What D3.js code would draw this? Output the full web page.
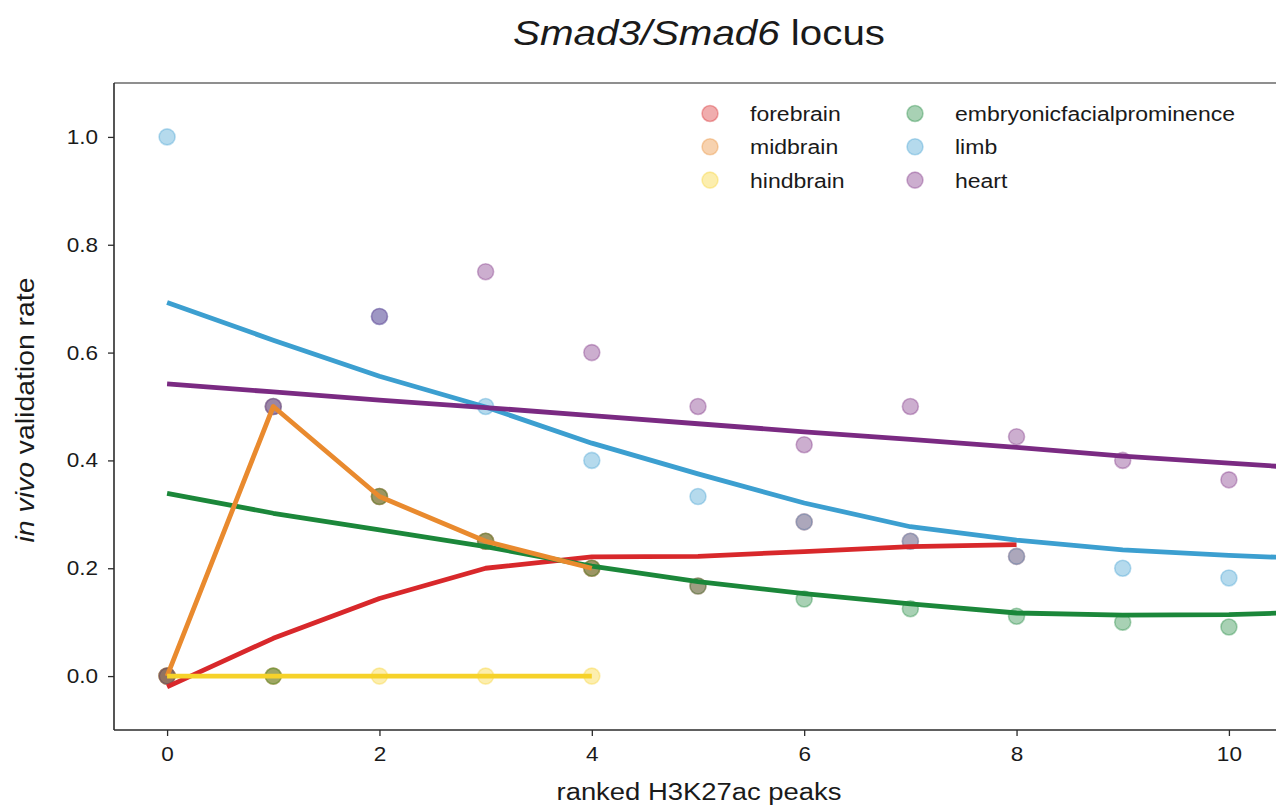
<!DOCTYPE html>
<html lang="en">
  <head>
    <meta charset="UTF-8" />
    <title>Smad3/Smad6 locus</title>
  </head>
  <style>
    * {
      margin: 0;
      padding: 0;
    }
    body {
      background: #fff;
      overflow: hidden;
    }
    text {
      font-family: "Liberation Sans", Arial, sans-serif;
      fill: #1a1a1a;
    }
  </style>

  <body>
    <svg id="chart"></svg>
  </body>

  <script src="https://d3js.org/d3.v7.min.js"></script>
  <script>
    // ranked peak index for each tissue, and the validation rate
    const tissues = ["forebrain", "midbrain", "hindbrain", "embryonicfacialprominence", "limb", "heart"];
    const colors = ["#d8282b", "#e98a2e", "#f6d22a", "#1b873a", "#3c9fd0", "#7a2a82"];

    const forebrain = [0, 0, 0.333, 0.25, 0.2, 0.167, 0.286, 0.25, 0.222];
    const midbrain = [0, 0.5, 0.333, 0.25, 0.2];
    const hindbrain = [0, 0, 0, 0, 0];
    const facial = [0, 0, 0.333, 0.25, 0.2, 0.167, 0.143, 0.125, 0.111, 0.1, 0.091];
    const limb = [1.0, 0.5, 0.667, 0.5, 0.4, 0.333, 0.286, 0.25, 0.222, 0.2, 0.182];
    const heart = [0, 0.5, 0.667, 0.75, 0.6, 0.5, 0.429, 0.5, 0.444, 0.4, 0.364];

    // smoothed fit lines (one value per rank)
    const forebrainFit = [-0.02, 0.07, 0.144, 0.2, 0.221, 0.222, 0.231, 0.24, 0.244];
    const midbrainFit = [0, 0.5, 0.333, 0.25, 0.2];
    const hindbrainFit = [0, 0, 0, 0, 0];
    const facialFit = [0.339, 0.302, 0.271, 0.24, 0.204, 0.175, 0.153, 0.134, 0.117, 0.113, 0.114, 0.12];
    const limbFit = [0.693, 0.623, 0.556, 0.499, 0.432, 0.375, 0.321, 0.277, 0.252, 0.234, 0.224, 0.216];
    const heartFit = [0.542, 0.527, 0.512, 0.498, 0.483, 0.468, 0.453, 0.439, 0.424, 0.408, 0.395, 0.382];

    const xTicks = [0, 2, 4, 6, 8, 10];
    const yTicks = [0, 0.2, 0.4, 0.6, 0.8, 1.0];

    const points = [forebrain, midbrain, hindbrain, facial, limb, heart];
    const fits = [forebrainFit, midbrainFit, hindbrainFit, facialFit, limbFit, heartFit];
    // order the fit lines are painted in
    const lineOrder = [0, 3, 4, 5, 1, 2];

    const width = 1276;
    const height = 806;
    const margin = { top: 83, left: 114, bottom: 76, right: -6 };

    const svg = d3.select("#chart").attr("width", width).attr("height", height);

    const xScale = d3.scaleLinear().domain([-0.5, 10.5]).range([margin.left, width - margin.right]);
    const yScale = d3.scaleLinear().domain([-0.1, 1.1]).range([height - margin.bottom, margin.top]);

    // the source figure is a little wider than it is tall, so stretch text sideways
    function widen(sel, k) {
      sel.each(function () {
        const w = this.getComputedTextLength();
        d3.select(this).attr("textLength", w * k).attr("lengthAdjust", "spacingAndGlyphs");
      });
    }

    svg
      .append("defs")
      .append("clipPath")
      .attr("id", "plotArea")
      .append("rect")
      .attr("x", xScale.range()[0])
      .attr("y", yScale.range()[1])
      .attr("width", xScale.range()[1] - xScale.range()[0])
      .attr("height", yScale.range()[0] - yScale.range()[1]);

    const plot = svg.append("g").attr("clip-path", "url(#plotArea)");

    // scatter points
    points.forEach((vals, i) => {
      plot
        .append("g")
        .selectAll("circle")
        .data(vals)
        .join("circle")
        .attr("cx", (d, j) => xScale(j))
        .attr("cy", (d) => yScale(d))
        .attr("r", 8)
        .attr("fill", colors[i])
        .attr("fill-opacity", 0.38)
        .attr("stroke", colors[i])
        .attr("stroke-opacity", 0.35)
        .attr("stroke-width", 1.6);
    });

    // fit lines
    const line = d3
      .line()
      .x((d, j) => xScale(j))
      .y((d) => yScale(d));

    lineOrder.forEach((i) => {
      plot
        .append("path")
        .datum(fits[i])
        .attr("d", line)
        .attr("fill", "none")
        .attr("stroke", colors[i])
        .attr("stroke-width", 4.8)
        .attr("stroke-linejoin", "round");
    });

    // top spine
    svg
      .append("line")
      .attr("x1", xScale.range()[0])
      .attr("x2", width)
      .attr("y1", yScale.range()[1])
      .attr("y2", yScale.range()[1])
      .attr("stroke", "#6a6a6a")
      .attr("stroke-width", 1.3);

    // x axis
    const xAxis = svg
      .append("g")
      .attr("transform", `translate(0,${yScale.range()[0]})`)
      .call(d3.axisBottom(xScale).tickValues(xTicks).tickSize(6).tickPadding(10).tickFormat(d3.format("d")));
    // y axis
    const yAxis = svg
      .append("g")
      .attr("transform", `translate(${xScale.range()[0]},0)`)
      .call(d3.axisLeft(yScale).tickValues(yTicks).tickSize(6).tickPadding(10).tickFormat(d3.format(".1f")));

    [xAxis, yAxis].forEach((ax) => {
      ax.select(".domain").attr("stroke", "#2b2b2b").attr("stroke-width", 1.6);
      ax.selectAll(".tick line").attr("stroke", "#2b2b2b").attr("stroke-width", 1.3);
      ax.selectAll(".tick text").attr("font-size", 20.5).attr("fill", "#1a1a1a").attr("font-family", "Liberation Sans, Arial, sans-serif");
    });
    // keep the bottom spine running off the right edge like the source
    xAxis.select(".domain").attr("d", `M${xScale.range()[0]},0H${width + 10}`);
    yAxis.select(".domain").attr("d", `M0,${yScale.range()[0]}V${yScale.range()[1]}`);
    widen(xAxis.selectAll(".tick text"), 1.1);
    widen(yAxis.selectAll(".tick text"), 1.1);

    // title
    const title = svg
      .append("text")
      .attr("x", 699)
      .attr("y", 45)
      .attr("text-anchor", "middle")
      .attr("font-size", 35);
    title.append("tspan").attr("font-style", "italic").text("Smad3/Smad6");
    title.append("tspan").text(" locus");
    title.attr("textLength", 372).attr("lengthAdjust", "spacingAndGlyphs");

    // axis labels
    svg
      .append("text")
      .attr("x", 699)
      .attr("y", 800)
      .attr("text-anchor", "middle")
      .attr("font-size", 23)
      .attr("textLength", 285)
      .attr("lengthAdjust", "spacingAndGlyphs")
      .text("ranked H3K27ac peaks");

    const yLabel = svg
      .append("text")
      .attr("transform", "translate(34,410) rotate(-90)")
      .attr("text-anchor", "middle")
      .attr("font-size", 26)
      .attr("textLength", 265)
      .attr("lengthAdjust", "spacingAndGlyphs");
    yLabel.append("tspan").attr("font-style", "italic").text("in vivo");
    yLabel.append("tspan").text(" validation rate");

    // legend, two columns of three
    const legend = svg.append("g");
    tissues.forEach((name, i) => {
      const col = Math.floor(i / 3);
      const row = i % 3;
      const gx = 710 + col * 205;
      const gy = 113.5 + row * 33.3;
      legend
        .append("circle")
        .attr("cx", gx)
        .attr("cy", gy)
        .attr("r", 8)
        .attr("fill", colors[i])
        .attr("fill-opacity", 0.38)
        .attr("stroke", colors[i])
        .attr("stroke-opacity", 0.35)
        .attr("stroke-width", 1.6);
      const t = legend
        .append("text")
        .attr("x", gx + 40)
        .attr("y", gy + 7.5)
        .attr("font-size", 20)
        .text(name);
      widen(t, 1.15);
    });
  </script>
</html>
